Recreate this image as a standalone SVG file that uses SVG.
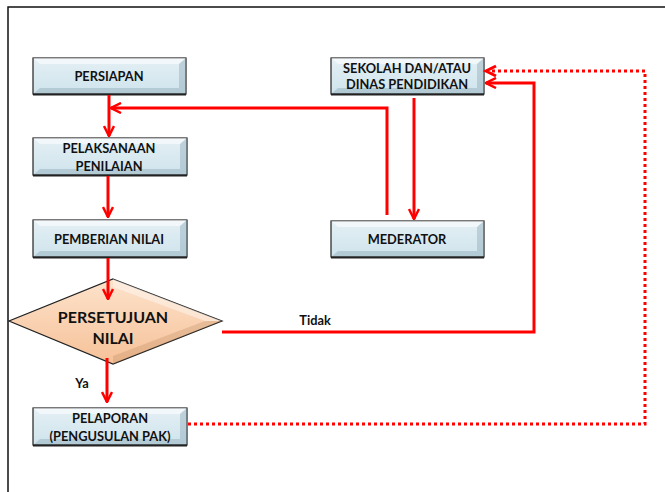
<svg xmlns="http://www.w3.org/2000/svg" width="665" height="492" viewBox="0 0 665 492">
<defs>
<linearGradient id="gb" x1="0" y1="0" x2="0" y2="1">
<stop offset="0" stop-color="#e4f0f5"/><stop offset="1" stop-color="#cfe3ec"/>
</linearGradient>
<linearGradient id="go" x1="0" y1="0" x2="0" y2="1">
<stop offset="0" stop-color="#fde3cc"/><stop offset="1" stop-color="#f6c198"/>
</linearGradient>
<marker id="ah" viewBox="0 0 12 12" refX="11" refY="6" markerWidth="12" markerHeight="12" markerUnits="userSpaceOnUse" orient="auto">
<path d="M1,1 L11,6 L1,11" fill="none" stroke="#ff0000" stroke-width="2.5"/>
</marker>
</defs>
<style>
.bx{fill:url(#gb);stroke:#222;stroke-width:1.2}
.hl{fill:#ffffff;opacity:0.55}
.sh{fill:#7a9aa8;opacity:0.35}
.t{font-family:Lato,"Liberation Sans",sans-serif;font-weight:bold;font-size:12.8px;fill:#111;text-anchor:middle;dominant-baseline:central}
.tb{font-size:16px}
.c{fill:none;stroke:#ff0000;stroke-width:3}
.d{fill:none;stroke:#ff0000;stroke-width:3;stroke-dasharray:3 3}
</style>
<rect x="0" y="0" width="665" height="492" fill="#ffffff"/>
<path d="M8,492 V7 H665" fill="none" stroke="#111" stroke-width="1.5"/>

<g id="persiapan">
<rect class="bx" x="33" y="58" width="153" height="36"/>
<polygon class="hl" points="33,58 186,58 179,64 40,64"/>
<polygon class="sh" points="186,58 186,94 179,88 179,64"/>
<polygon class="sh" points="33,94 186,94 179,88 40,88"/>
<line x1="33" y1="94.5" x2="186" y2="94.5" stroke="#222" stroke-width="2"/>
<text class="t" x="109" y="76">PERSIAPAN</text>
</g>

<g id="sekolah">
<rect class="bx" x="331" y="58" width="153" height="36"/>
<polygon class="hl" points="331,58 484,58 477,64 338,64"/>
<polygon class="sh" points="484,58 484,94 477,88 477,64"/>
<polygon class="sh" points="331,94 484,94 477,88 338,88"/>
<line x1="331" y1="94.5" x2="484" y2="94.5" stroke="#222" stroke-width="2"/>
<text class="t" x="407" y="68">SEKOLAH DAN/ATAU</text>
<text class="t" x="407" y="84">DINAS PENDIDIKAN</text>
</g>

<g id="pelaksanaan">
<rect class="bx" x="33" y="138" width="154" height="37"/>
<polygon class="hl" points="33,138 187,138 180,144 40,144"/>
<polygon class="sh" points="187,138 187,175 180,169 180,144"/>
<polygon class="sh" points="33,175 187,175 180,169 40,169"/>
<line x1="33" y1="175.5" x2="187" y2="175.5" stroke="#222" stroke-width="2"/>
<text class="t" x="109" y="148">PELAKSANAAN</text>
<text class="t" x="109" y="166">PENILAIAN</text>
</g>

<g id="pemberian">
<rect class="bx" x="33" y="220" width="154" height="37"/>
<polygon class="hl" points="33,220 187,220 180,226 40,226"/>
<polygon class="sh" points="187,220 187,257 180,251 180,226"/>
<polygon class="sh" points="33,257 187,257 180,251 40,251"/>
<line x1="33" y1="257.5" x2="187" y2="257.5" stroke="#222" stroke-width="2"/>
<text class="t" x="109" y="239">PEMBERIAN NILAI</text>
</g>

<g id="mederator">
<rect class="bx" x="331" y="221" width="153" height="36"/>
<polygon class="hl" points="331,221 484,221 477,227 338,227"/>
<polygon class="sh" points="484,221 484,257 477,251 477,227"/>
<polygon class="sh" points="331,257 484,257 477,251 338,251"/>
<line x1="331" y1="257.5" x2="484" y2="257.5" stroke="#222" stroke-width="2"/>
<text class="t" x="407" y="239">MEDERATOR</text>
</g>

<g id="persetujuan">
<polygon points="113,279 222,321 113,364 9,321" fill="url(#go)" stroke="#222" stroke-width="1.2"/>
<polygon points="113,279 222,321 205,321 113,287" fill="#ffffff" opacity="0.4"/>
<polygon points="113,364 222,321 205,321 113,356" fill="#b07a50" opacity="0.25"/>
<text class="t tb" x="113" y="316">PERSETUJUAN</text>
<text class="t tb" x="113" y="337">NILAI</text>
</g>

<g id="pelaporan">
<rect class="bx" x="33" y="408" width="154" height="37"/>
<polygon class="hl" points="33,408 187,408 180,414 40,414"/>
<polygon class="sh" points="187,408 187,445 180,439 180,414"/>
<polygon class="sh" points="33,445 187,445 180,439 40,439"/>
<line x1="33" y1="445.5" x2="187" y2="445.5" stroke="#222" stroke-width="2"/>
<text class="t" x="110" y="418">PELAPORAN</text>
<text class="t" x="110" y="436">(PENGUSULAN PAK)</text>
</g>

<g id="connectors">
<path class="c" d="M109,95 V136" marker-end="url(#ah)"/>
<path class="c" d="M387,215 V108 H111" marker-end="url(#ah)"/>
<path class="c" d="M414,98 V219" marker-end="url(#ah)"/>
<path class="c" d="M108,176 V217" marker-end="url(#ah)"/>
<path class="c" d="M108,258 V299" marker-end="url(#ah)"/>
<path class="c" d="M107,358 V402" marker-end="url(#ah)"/>
<path class="c" d="M222,332 H534 V83 H486" marker-end="url(#ah)"/>
<path class="d" d="M188,424 H645 V71 H492"/>
<path class="c" d="M496,66 L486,71 L496,76"/>
</g>

<g id="labels">
<text class="t" x="82" y="383">Ya</text>
<text class="t" x="315" y="320">Tidak</text>
</g>
</svg>
